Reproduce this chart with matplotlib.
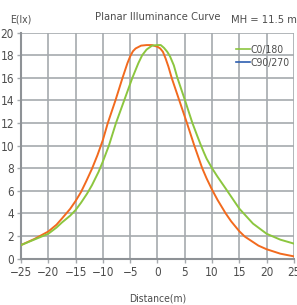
import matplotlib
matplotlib.use("Agg")
import matplotlib.pyplot as plt
from matplotlib import font_manager
from matplotlib.lines import Line2D

# pick a narrow font if one is around
names = {f.name for f in font_manager.fontManager.ttflist}
if 'Liberation Sans Narrow' in names:
    plt.rcParams['font.family'] = ['Liberation Sans Narrow', 'DejaVu Sans']
else:
    plt.rcParams['font.family'] = ['DejaVu Sans']
    plt.rcParams['font.stretch'] = 'condensed'

# C0/180 curve (green)
dist_c0 = [-25, -22.5, -20, -18.5, -17.5, -16, -15, -14, -12.9, -12, -10.8,
           -10, -8.9, -7.6, -6.1, -4.6, -3.5, -2.8, -2, -1, 0, 0.6, 1.2, 1.8,
           2.3, 3, 3.65, 5.05, 6.4, 7.3, 7.9, 8.5, 9, 10, 11, 12.5, 15, 17.5,
           20, 22.5, 25]
lux_c0 = [1.2, 1.7, 2.2, 2.75, 3.2, 3.8, 4.3, 4.95, 5.75, 6.5, 7.67,
          8.6, 10, 12, 14, 16, 17.3, 18, 18.5, 18.85, 18.9, 18.9, 18.65, 18.3,
          17.9, 17.1, 16, 14, 12, 10.85, 10.1, 9.4, 8.85, 8.0, 7.25, 6.2, 4.42, 3.1,
          2.2, 1.68, 1.33]

# C90/270 curve (orange)
dist_c90 = [-25, -22.5, -20, -18.5, -17.5, -16, -15, -14, -13, -12, -11,
            -10, -9.1, -7.7, -6.4, -5.5, -5, -4.5, -4, -3, -2, -1, 0, 0.5, 1,
            1.5, 2, 2.6, 4, 5.4, 6.75, 8.2, 9, 10, 11, 12.5, 13.5, 15, 16, 17.5,
            18.5, 20, 22.5, 25]
lux_c90 = [1.2, 1.75, 2.4, 3.0, 3.55, 4.4, 5.1, 5.9, 6.9, 7.95, 9.15,
           10.5, 12, 14, 16, 17.3, 17.9, 18.35, 18.6, 18.85, 18.9, 18.9, 18.75, 18.6, 18.3,
           17.7, 17.0, 16, 14, 12, 10, 8, 7.1, 6.1, 5.2, 4.0, 3.3, 2.42, 1.95, 1.47,
           1.15, 0.83, 0.44, 0.2]

labels = ['C0/180', 'C90/270']
xticks = [-25, -20, -15, -10, -5, 0, 5, 10, 15, 20, 25]
xticklabels = ['\u221225', '\u221220', '\u221215', '\u221210', '\u22125', '0',
               '5', '10', '15', '20', '25']
yticks = [0, 2, 4, 6, 8, 10, 12, 14, 16, 18, 20]

green = '#8cc63f'
orange = '#f26a1e'
blue = '#2e5fb0'
grid_c = '#a6aaae'
text_c = '#4d4d4d'

fig = plt.figure(figsize=(2.97, 3.05), dpi=100)
ax = fig.add_axes([0.0707, 0.152, 0.919, 0.741])

ax.plot(dist_c90, lux_c90, color=orange, lw=1.4, zorder=3)
ax.plot(dist_c0, lux_c0, color=green, lw=1.4, zorder=3)

ax.set_xlim(-25, 25)
ax.set_ylim(0, 20)
ax.set_xticks(xticks)
ax.set_xticklabels(xticklabels)
ax.set_yticks(yticks)
ax.grid(True, color=grid_c, lw=1.2)
ax.set_axisbelow(True)
for s in ['top', 'right']:
    ax.spines[s].set_visible(False)
for s in ['left', 'bottom']:
    ax.spines[s].set_color('#8e9296')
    ax.spines[s].set_linewidth(1.5)
ax.tick_params(colors=text_c, labelsize=8.5, length=3, width=1, color=grid_c, pad=2)

ax.set_xlabel('Distance(m)', fontsize=7.5, color=text_c, labelpad=11)

handles = [Line2D([], [], color=green, lw=1.2), Line2D([], [], color=blue, lw=1.2)]
ax.legend(handles, labels, loc='upper right', bbox_to_anchor=(1.0, 0.965),
          frameon=False, fontsize=7.5, handlelength=1.3, handletextpad=0.1,
          labelspacing=0.3, labelcolor=text_c, borderaxespad=0)

fig.text(0.53, 0.945, 'Planar Illuminance Curve', ha='center', va='center',
         fontsize=8, color=text_c)
fig.text(0.998, 0.935, 'MH = 11.5 m', ha='right', va='center',
         fontsize=8, color=text_c)
fig.text(0.035, 0.935, 'E(lx)', ha='left', va='center', fontsize=7.5, color=text_c)

fig.savefig('out.png', dpi=100)
